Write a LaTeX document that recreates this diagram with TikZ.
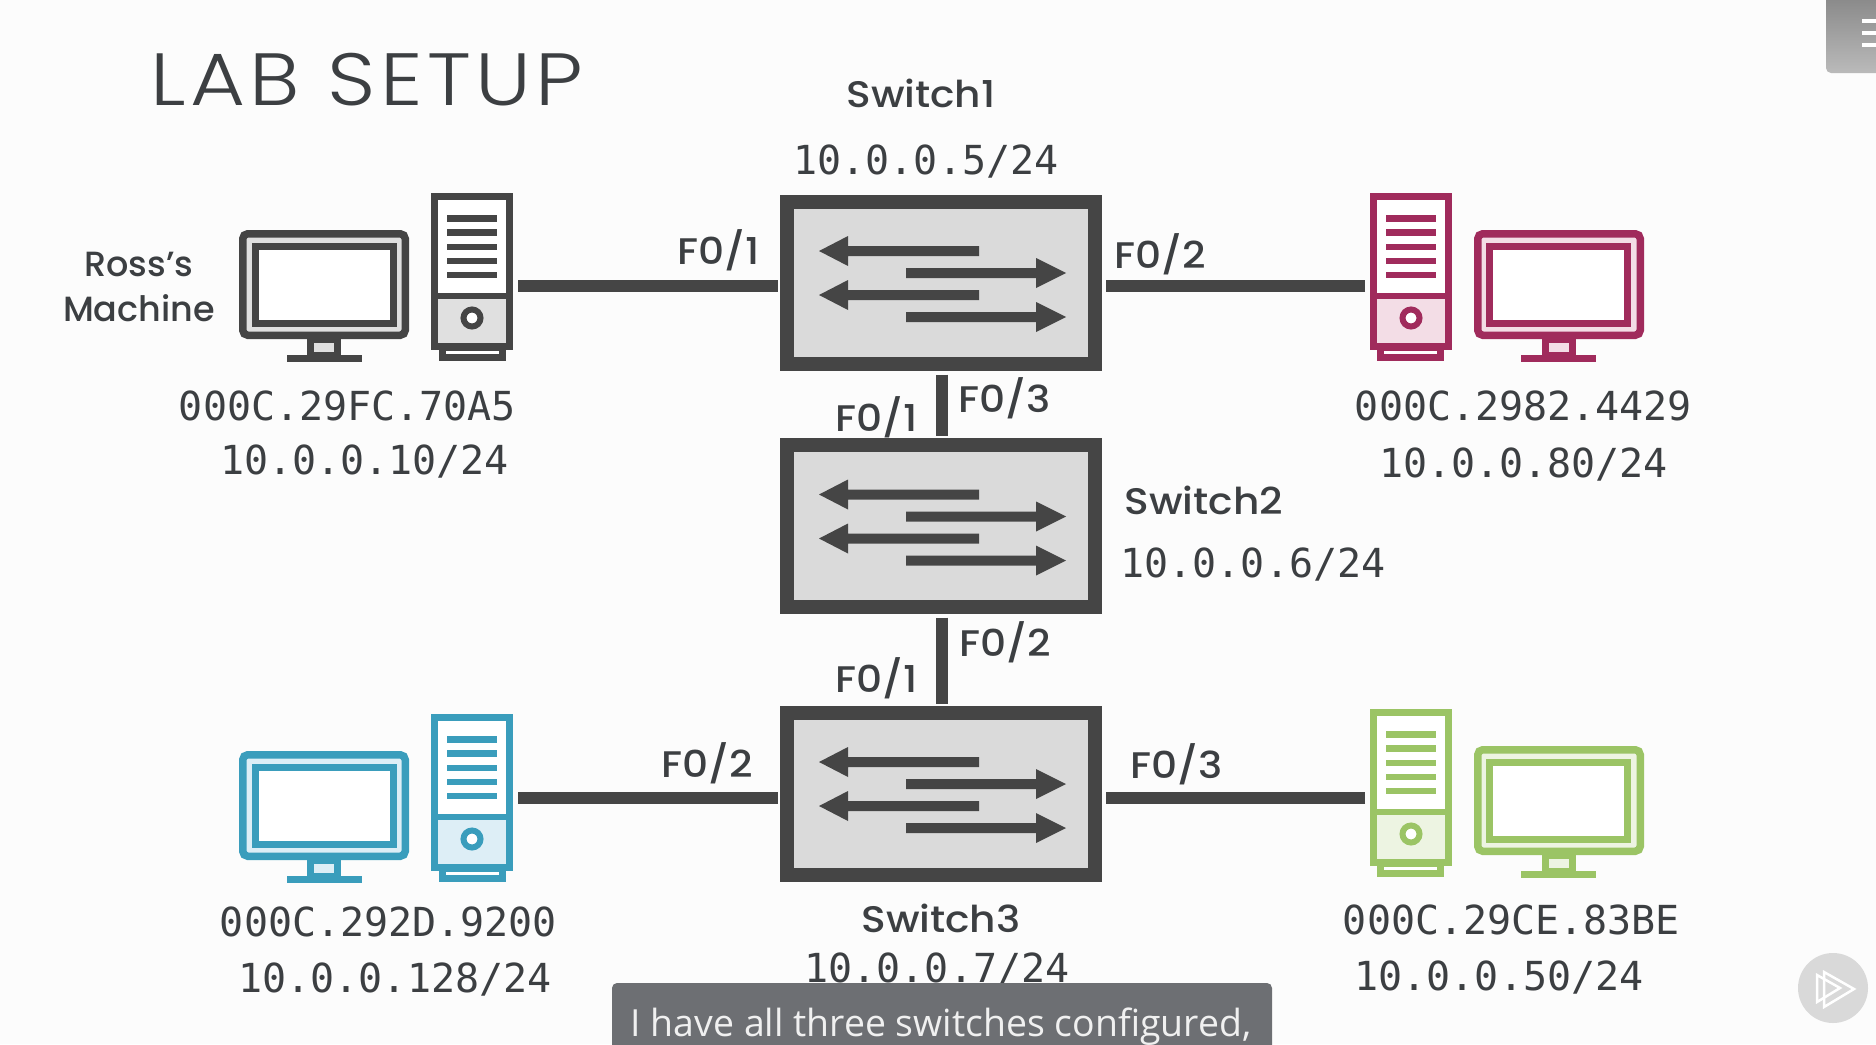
\documentclass[tikz,border=0pt]{standalone}
\usepackage{fontspec}
\setmainfont{Poppins}
\newfontfamily\titlefont{Poppins}[UprightFont=* Light,FakeStretch=1.14,LetterSpace=6]
\newfontfamily\labelfont{Poppins}[UprightFont=* Medium]
\newfontfamily\widefont{Poppins}[UprightFont=* Medium,FakeStretch=1.1]
\newfontfamily\monofont{DejaVu Sans Mono}
\newfontfamily\capfont{Open Sans}
\usetikzlibrary{calc}
\definecolor{ink}{HTML}{454545}
\definecolor{txt}{HTML}{3C3F42}
\definecolor{swfill}{HTML}{DADADA}
\definecolor{capc}{HTML}{6D6F73}
\tikzset{
  switchbox/.style={draw=ink,fill=swfill,line width=14pt,minimum width=308pt,minimum height=162pt,inner sep=0pt},
  link/.style={draw=ink,line width=12pt},
  mono/.style={font=\monofont\fontsize{40}{40}\selectfont,text=txt,inner sep=0pt,anchor=center},
  lab/.style={font=\widefont\fontsize{37}{37}\selectfont,text=txt,inner sep=0pt,anchor=center},
  who/.style={font=\labelfont\fontsize{35}{35}\selectfont,text=txt,inner sep=0pt,anchor=center},
  port/.style={font=\widefont\fontsize{37}{37}\selectfont,text=txt,inner sep=0pt,anchor=center},
  computer/.pic={
    \coordinate (-port) at (518,286);
    % monitor
    \draw[draw=ic,fill=icf,line width=7.5pt,rounded corners=5pt] (242.75,233.75) rectangle (405.25,335.25);
    \draw[draw=ic,fill=white,line width=7pt] (255.5,246.5) rectangle (393.5,323.5);
    \draw[draw=ic,fill=icf,line width=7pt] (310.5,339) rectangle (337.5,355);
    \fill[ic] (287,355) rectangle (362,362);
    % tower
    \draw[draw=ic,fill=white,line width=7pt] (442.5,347) rectangle (502.5,357.5);
    \draw[draw=ic,fill=white,line width=7pt] (434.5,196.5) rectangle (509.5,346.5);
    \fill[icf] (438,299) rectangle (506,343);
    \draw[draw=ic,line width=6.5pt] (434.5,296) -- (509.5,296);
    \foreach \yy in {218.5,232.5,247,261,275}
      \fill[ic] (447,\yy-3.4) rectangle (497,\yy+3.4);
    \draw[draw=ic,fill=white,line width=6pt] (472,318) circle (8.5pt);
  },
  arrows4/.pic={
    \fill[ink] (979,246) -- (848,246) -- (848,236) -- (819,251) -- (848,266) -- (848,256) -- (979,256) -- cycle;
    \fill[ink] (979,290) -- (848,290) -- (848,280) -- (819,295) -- (848,310) -- (848,300) -- (979,300) -- cycle;
    \fill[ink] (906,268) -- (1036,268) -- (1036,258) -- (1066,273) -- (1036,288) -- (1036,278) -- (906,278) -- cycle;
    \fill[ink] (906,312) -- (1036,312) -- (1036,302) -- (1066,317) -- (1036,332) -- (1036,322) -- (906,322) -- cycle;
  }
}
\begin{document}
\begin{tikzpicture}[x=1pt,y=-1pt]
\useasboundingbox (0,0) rectangle (1876,1044);
\fill[white!99!black] (0,0) rectangle (1876,1044);

% title
\node[font=\titlefont\fontsize{74}{74}\selectfont,text=txt,inner sep=0pt] (title) at (367,80) {LAB SETUP};

% switches
\node[switchbox] (s1) at (941,282.5) {};
\node[switchbox] (s2) at (941,525.5) {};
\node[switchbox] (s3) at (941,793.5) {};
\pic (a1) at (0,0) {arrows4};
\pic (a2) at (0,243.5) {arrows4};
\pic (a3) at (0,511) {arrows4};
\coordinate (s3l) at ([yshift=-4pt]s3.west);
\coordinate (s3r) at ([yshift=-4pt]s3.east);

% computers
\colorlet{ic}{ink}\colorlet{icf}{swfill!85!white}
\pic (pa) at (0,0) {computer};
\definecolor{ic}{HTML}{A02B5C}\definecolor{icf}{HTML}{F3DDE6}
\pic[xscale=-1] (pb) at (1883,0) {computer};
\definecolor{ic}{HTML}{3A9DBC}\definecolor{icf}{HTML}{DDEEF6}
\pic (pc) at (0,521) {computer};
\definecolor{ic}{HTML}{9BC465}\definecolor{icf}{HTML}{EDF4E2}
\pic[xscale=-1] (pd) at (1883,516) {computer};

% connectors
\draw[link,shorten >=2pt] (pa-port) -- (pa-port -| s1.west);
\draw[link,shorten >=4pt] (pb-port) -- (pb-port -| s1.east);
\draw[link,shorten >=2pt] (pc-port |- s3l) -- (s3l);
\draw[link,shorten >=4pt] (pd-port |- s3r) -- (s3r);
\draw[link,shorten <=4pt,shorten >=2pt] ([xshift=1pt]s1.south) -- ([xshift=1pt]s2.north);
\draw[link,shorten <=4pt,shorten >=2pt] ([xshift=1pt]s2.south) -- ([xshift=1pt]s3.north);

% switch labels
\node[lab] (n1) at (921,93) {Switch1};
\node[mono] (i1) at (926,161.5) {10.0.0.5/24};
\node[lab] (n2) at (1204,500) {Switch2};
\node[mono] (i2) at (1253,564.5) {10.0.0.6/24};
\node[lab] (n3) at (941,918) {Switch3};
\node[mono] (i3) at (937,969.5) {10.0.0.7/24};

% machine labels
\node[who] (r1) at (139,264) {Ross’s};
\node[who] (r2) at (139,308) {Machine};
\node[mono] (ma) at (347.5,406) {000C.29FC.70A5};
\node[mono] (ia) at (364.5,461.5) {10.0.0.10/24};
\node[mono] (mb) at (1523.5,406) {000C.2982.4429};
\node[mono] (ib) at (1523.5,464.5) {10.0.0.80/24};
\node[mono] (mc) at (388.5,921.5) {000C.292D.9200};
\node[mono] (ipc) at (395,979.5) {10.0.0.128/24};
\node[mono] (md) at (1511.5,919.5) {000C.29CE.83BE};
\node[mono] (id) at (1499,977.5) {10.0.0.50/24};

% port labels
\node[port] (p1) at (719,250) {F0/1};
\node[port] (p2) at (1160,254) {F0/2};
\node[port] (p3) at (877,417) {F0/1};
\node[port] (p4) at (1005,398) {F0/3};
\node[port] (p5) at (1005,642) {F0/2};
\node[port] (p6) at (877,678) {F0/1};
\node[port] (p7) at (707,763) {F0/2};
\node[port] (p8) at (1177,764) {F0/3};

% caption bar
\fill[capc,rounded corners=5pt] (612,983) rectangle (1272,1060);
\node[font=\capfont\fontsize{37.4}{37.4}\selectfont,text=white!94!black,inner sep=0pt] (cap) at (941,1027) {I have all three switches configured,};

% menu tab
\shade[top color=black!48,bottom color=black!27,rounded corners=5pt] (1826,-10) rectangle (1886,73);
\foreach \yy in {19,31,43} \fill[white] (1862,\yy) rectangle (1876,\yy+4);

% play button
\fill[black!15] (1833,988) circle (35pt);
\draw[white,line width=2.5pt,line join=miter] (1817,975) -- (1840,988) -- (1817,1002) -- cycle;
\draw[white,line width=2.5pt,line join=miter] (1824,972) -- (1854,989) -- (1824,1007) -- cycle;
\end{tikzpicture}
\end{document}
